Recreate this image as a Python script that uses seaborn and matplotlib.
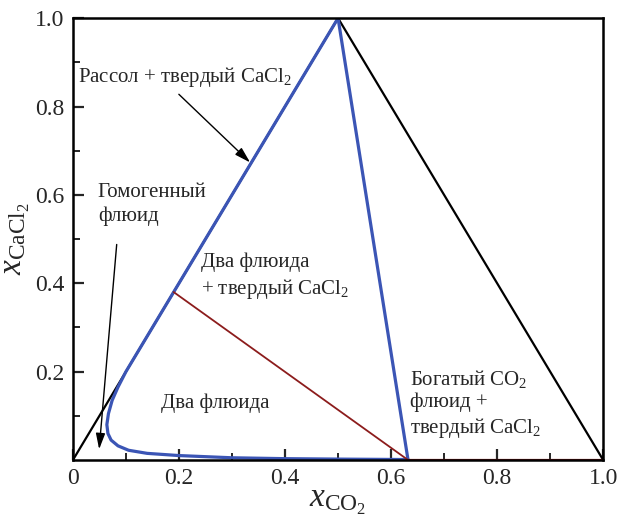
import numpy as np
import pandas as pd
import matplotlib
matplotlib.use("Agg")
import matplotlib.pyplot as plt
import seaborn as sns

# Data
boundary_x = [0.0, 0.5, 1.0]
boundary_y = [0.0, 1.0, 0.0]
curve_x = [0.5, 0.19, 0.10, 0.085, 0.074, 0.067, 0.064, 0.066, 0.072, 0.085, 0.105, 0.14, 0.20, 0.30, 0.40, 0.50, 0.632]
curve_y = [1.0, 0.38, 0.20, 0.165, 0.135, 0.105, 0.08, 0.06, 0.045, 0.032, 0.022, 0.015, 0.010, 0.005, 0.003, 0.002, 0.001]
right_x = [0.5, 0.632]
right_y = [1.0, 0.0]
tie_x = [0.19, 0.632]
tie_y = [0.38, 0.0]
base_x = [0.632, 1.0]
base_y = [0.0, 0.0]
ticks = [0.0, 0.2, 0.4, 0.6, 0.8, 1.0]
tick_labels = ["0", "0.2", "0.4", "0.6", "0.8", "1.0"]

sns.set_style("ticks")
plt.rcParams["font.family"] = ["Liberation Serif", "DejaVu Serif"]
plt.rcParams["mathtext.fontset"] = "custom"
plt.rcParams["mathtext.rm"] = "Liberation Serif"
plt.rcParams["mathtext.it"] = "Liberation Serif:italic"

fig = plt.figure(figsize=(6.18, 5.18), dpi=100)
ax = fig.add_axes([0.118, 0.112, 0.858, 0.853])

blue = "#3b55b5"
red = "#8c1c1c"

kw = dict(sort=False, estimator=None, errorbar=None, ax=ax)
sns.lineplot(x=boundary_x, y=boundary_y, color="black", lw=1.6, **kw)
sns.lineplot(x=curve_x, y=curve_y, color=blue, lw=2.3, **kw)
sns.lineplot(x=right_x, y=right_y, color=blue, lw=2.3, **kw)
sns.lineplot(x=tie_x, y=tie_y, color=red, lw=1.3, **kw)
sns.lineplot(x=base_x, y=base_y, color=red, lw=1.6, **kw)

ax.set_xlim(0, 1)
ax.set_ylim(0, 1)
ax.set_xticks(ticks)
ax.set_xticklabels(tick_labels)
ax.set_yticks(ticks[1:])
ax.set_yticklabels(tick_labels[1:])
ax.set_xticks(np.arange(0.1, 1.0, 0.2), minor=True)
ax.set_yticks(np.arange(0.1, 1.0, 0.2), minor=True)
ax.tick_params(axis="both", which="major", direction="in", length=8, width=1.6, labelsize=17, pad=6)
ax.tick_params(axis="both", which="minor", direction="in", length=5, width=1.4)
for s in ax.spines.values():
    s.set_linewidth(1.8)
    s.set_color("black")

ax.set_xlabel(r"$\mathit{x}_{\mathrm{CO_2}}$", fontsize=24, labelpad=-2)
ax.set_ylabel(r"$\mathit{x}_{\mathrm{CaCl_2}}$", fontsize=24, labelpad=2)

fs = 15
arrow = dict(arrowstyle="-|>,head_length=1.2,head_width=0.35", color="black", lw=1.0, mutation_scale=8)
ax.text(0.01, 0.866, r"Рассол + твердый CaCl$_2$", fontsize=fs, ha="left", va="center")
ax.annotate("", xy=(0.338, 0.669), xytext=(0.196, 0.832), arrowprops=arrow)
ax.text(0.047, 0.578, "Гомогенный\nфлюид", fontsize=fs, ha="left", va="center", linespacing=1.3)
ax.annotate("", xy=(0.049, 0.018), xytext=(0.083, 0.494), arrowprops=arrow)
ax.text(0.242, 0.415, "Два флюида\n+ твердый CaCl$_2$", fontsize=fs, ha="left", va="center", linespacing=1.3)
ax.text(0.166, 0.129, "Два флюида", fontsize=fs, ha="left", va="center")
ax.text(0.636, 0.127, "Богатый CO$_2$\nфлюид +\nтвердый CaCl$_2$", fontsize=fs, ha="left", va="center", linespacing=1.2)

fig.savefig("out.png", dpi=100)
